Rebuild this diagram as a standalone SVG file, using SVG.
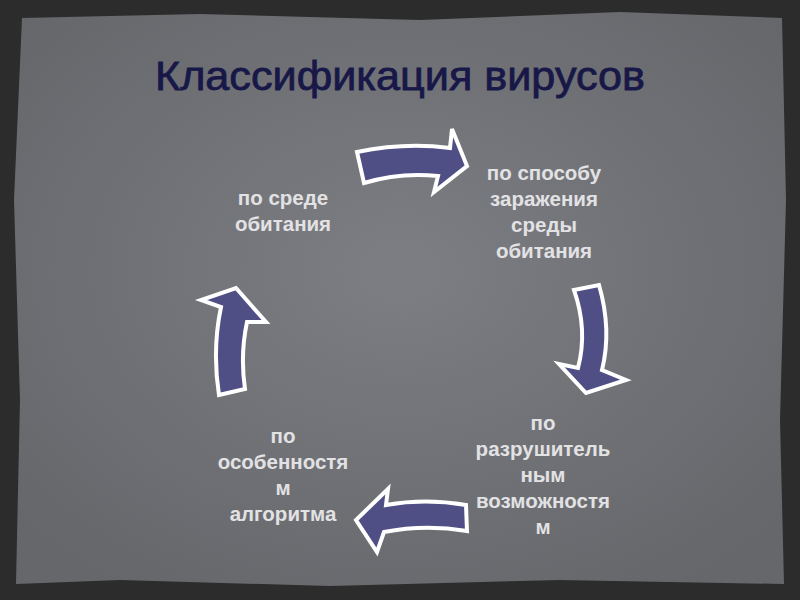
<svg xmlns="http://www.w3.org/2000/svg" width="800" height="600" viewBox="0 0 800 600">
<defs>
<style>
.lbl{font-family:"Liberation Sans",Arial,sans-serif;font-weight:bold;font-size:20.5px;fill:#e2e2e4;text-anchor:middle}
.arr{fill:#4f4f86;stroke:#ffffff;stroke-width:4;stroke-linejoin:miter}
</style>
<radialGradient id="bg" cx="50%" cy="45%" r="65%">
<stop offset="0" stop-color="#7d7e83"/><stop offset="1" stop-color="#66676b"/>
</radialGradient>
</defs>
<rect width="800" height="600" fill="#2c2c2c"/>
<path d="M22,18 L200,14 L420,20 L620,12 L782,18 L786,200 L780,420 L784,584 L560,580 L330,586 L120,580 L16,584 L20,400 L14,200 Z" fill="url(#bg)"/>
<text x="400" y="90" font-family="Liberation Sans,Arial,sans-serif" font-size="40" fill="#181848" stroke="#181848" stroke-width="0.8" text-anchor="middle" textLength="490" lengthAdjust="spacingAndGlyphs">Классификация вирусов</text>
<g id="connectors">
<path class="arr" d="M357,152 Q405,142 450,148 L452,129 L467,166 L434,192 L438,176 Q400,172 364,183 Z"/>
<path class="arr" d="M574,290 L599,285 Q612,330 602,370 L626,380 L586,393 L559,364 L578,368 Q588,330 574,290 Z"/>
<path class="arr" d="M466,505 L467,531 Q425,524 384,532 L377,552 L356,520 L388,489 L386,505 Q425,498 466,505 Z"/>
<path class="arr" d="M219,395 L245,389 Q240,355 247,322 L266,322 L236,288 L201,300 L221,307 Q212,350 219,395 Z"/>
</g>
<g id="n1"><text class="lbl" x="283" y="205">по среде</text><text class="lbl" x="283" y="231">обитания</text></g>
<g id="n2"><text class="lbl" x="544" y="180">по способу</text><text class="lbl" x="544" y="206">заражения</text><text class="lbl" x="544" y="232">среды</text><text class="lbl" x="544" y="258">обитания</text></g>
<g id="n3"><text class="lbl" x="543" y="430">по</text><text class="lbl" x="543" y="456">разрушитель</text><text class="lbl" x="543" y="482">ным</text><text class="lbl" x="543" y="508">возможностя</text><text class="lbl" x="543" y="534">м</text></g>
<g id="n4"><text class="lbl" x="283" y="443">по</text><text class="lbl" x="283" y="469">особенностя</text><text class="lbl" x="283" y="495">м</text><text class="lbl" x="283" y="521">алгоритма</text></g>
</svg>
